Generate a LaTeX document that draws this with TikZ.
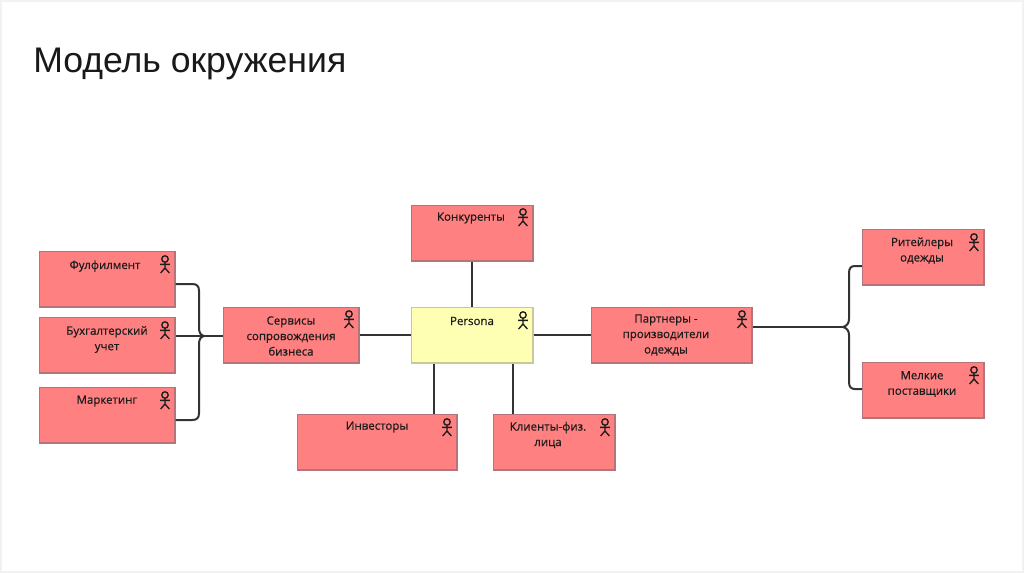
\documentclass[tikz,border=0pt]{standalone}
\usepackage{fontspec}
\setmainfont{Open Sans}[FakeBold=0.6]
\newfontfamily\titlefont{Liberation Sans}
\definecolor{redfill}{HTML}{FF8080}
\definecolor{redline}{HTML}{B5747A}
\definecolor{yelfill}{HTML}{FFFFB4}
\definecolor{yelline}{HTML}{C8C89A}
\definecolor{conn}{HTML}{333333}
\definecolor{inktext}{HTML}{1C1C1C}
\tikzset{
  actorbox/.style={draw=redline,fill=redfill,line width=1pt,inner sep=0pt},
  personabox/.style={actorbox,draw=yelline,fill=yelfill},
  lbl/.style={font=\fontsize{8.6pt}{11.6pt}\selectfont,text=inktext,align=center,inner sep=0pt},
  link/.style={draw=conn,line width=1.5pt},
  actor/.pic={
    \draw[inktext,line width=1pt] (0,0) circle (3.2);
    \draw[inktext,line width=1pt] (0,3.2) -- (0,9) (-4.8,5.4) -- (4.8,5.4) (-4.4,14) -- (0,9) -- (4.4,14);
  }
}
% name, x1, y1, x2, y2, style
\newcommand{\bx}[6]{\node[#6,minimum width={(#4-#2)*0.75pt},minimum height={(#5-#3)*0.75pt}] (#1) at ({(#2+#4)/2},{(#3+#5)/2}) {};}
\begin{document}
\begin{tikzpicture}[x=0.75pt,y=-0.75pt]
\useasboundingbox (0,0) rectangle (1024,574);
\fill[white] (0,0) rectangle (1024,574);
\draw[black!5,line width=1pt] (1,1) rectangle (1023,572);
\node[font=\fontsize{26.7pt}{30pt}\selectfont\titlefont,text=black!90,anchor=base west,inner sep=0pt] (title) at (33,73) {Модель окружения};

\bx{ff}{39.5}{251.5}{175}{307}{actorbox}
\bx{bu}{39.5}{317.5}{175}{373}{actorbox}
\bx{ma}{39.5}{387.5}{175}{443}{actorbox}
\bx{se}{223.5}{307.5}{359}{363}{actorbox}
\bx{ko}{411.5}{205.5}{533}{261}{actorbox}
\bx{pe}{411.5}{307.5}{533}{363}{personabox}
\bx{pa}{591.5}{307.5}{752}{363}{actorbox}
\bx{in}{297.5}{414.5}{457}{470}{actorbox}
\bx{kl}{493.5}{414.5}{615}{470}{actorbox}
\bx{ri}{862.5}{229.5}{984}{285}{actorbox}
\bx{me}{862.5}{362.5}{984}{418}{actorbox}

\node[lbl] (tff) at (105,266) {Фулфилмент};
\node[lbl] (tbu) at (107,339.5) {Бухгалтерский\\учет};
\node[lbl] (tma) at (107,401) {Маркетинг};
\node[lbl] (tse) at (291,336) {Сервисы\\сопровождения\\бизнеса};
\node[lbl] (tko) at (471,218) {Конкуренты};
\node[lbl] (tpe) at (472,321) {Persona};
\node[lbl] (tpa) at (666,335) {Партнеры -\\производители\\одежды};
\node[lbl] (tin) at (377,427) {Инвесторы};
\node[lbl] (tkl) at (548,435) {Клиенты-физ.\\лица};
\node[lbl] (tri) at (922,250.5) {Ритейлеры\\одежды};
\node[lbl] (tme) at (922,384) {Мелкие\\поставщики};

\pic at (165,259) {actor};
\pic at (165,325) {actor};
\pic at (165,395) {actor};
\pic at (349,314) {actor};
\pic at (523,212) {actor};
\pic at (523,315) {actor};
\pic at (742,314) {actor};
\pic at (447,422) {actor};
\pic at (605,422) {actor};
\pic at (974,237) {actor};
\pic at (974,370) {actor};

% simple links
\draw[link] (se.east) -- (pe.west);
\draw[link] (pe.east) -- (pa.west);
\draw[link] (ko.south) -- (pe.north);
\draw[link] (in.north -| 434,0) -- (pe.south -| 434,0);
\draw[link] (kl.north -| 513,0) -- (pe.south -| 513,0);

% left bundle
\coordinate (lj) at (204,336);
\draw[link] ([yshift=-3.75pt]ff.east) -- (192,284) .. controls (197,284) and (199,286) .. (199,291) -- (199,327) .. controls (199,332) and (200,335) .. (lj);
\draw[link] (ma.east |- 0,420) -- (192,420) .. controls (197,420) and (199,418) .. (199,413) -- (199,345) .. controls (199,340) and (200,337) .. (lj);
\draw[link] (bu.east |- lj) -- (se.west |- lj);

% right bundle
\coordinate (rj) at (843,327);
\draw[link] (pa.east |- rj) -- (rj);
\draw[link] (rj) .. controls (847,326) and (849,323) .. (849,319) -- (849,273) .. controls (849,268) and (851,266) .. (855,266) -- (ri.west |- 0,266);
\draw[link] (rj) .. controls (847,328) and (849,331) .. (849,335) -- (849,382) .. controls (849,387) and (851,389) .. (855,389) -- (me.west |- 0,389);
\end{tikzpicture}
\end{document}
